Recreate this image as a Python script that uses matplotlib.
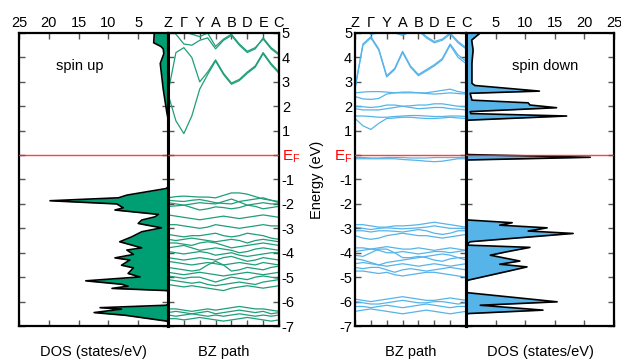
import matplotlib

matplotlib.use("Agg")
import matplotlib.pyplot as plt

plt.rcParams["font.family"] = ["Liberation Sans", "DejaVu Sans"]

# high-symmetry path, band values sampled at every half segment
kpath_labels = ["Z", "Γ", "Y", "A", "B", "D", "E", "C"]
k_samples = [i * 0.5 for i in range(15)]

# spin up bands (eV)
up_bands = [
    [2.5, 1.4, 0.88, 1.6, 2.7, 3.3, 3.85, 3.3, 2.9, 3.05, 3.35, 3.6, 4.15, 3.7, 3.35],
    [2.55, 4.2, 4.4, 4.0, 3.0, 3.4, 3.9, 3.35, 2.95, 3.1, 3.4, 3.65, 4.2, 3.75, 3.4],
    [5.2, 4.95, 4.55, 4.5, 4.7, 4.8, 4.35, 4.7, 4.9, 4.5, 4.2, 4.35, 4.8, 4.4, 4.15],
    [5.3, 5.2, 5.05, 4.95, 4.85, 5.0, 4.45, 4.75, 4.95, 4.55, 4.25, 4.4, 4.75, 4.35, 4.1],
    [-1.75, -1.7, -1.68, -1.7, -1.72, -1.72, -1.75, -1.65, -1.55, -1.55, -1.6, -1.7, -1.8, -1.85, -1.9],
    [-1.85, -1.88, -1.9, -1.85, -1.82, -1.88, -1.95, -1.98, -2.0, -1.9, -1.85, -1.8, -1.75, -1.85, -1.95],
    [-1.95, -2.0, -2.05, -2.0, -1.95, -1.98, -2.0, -1.9, -1.8, -1.92, -2.05, -2.0, -1.95, -2.0, -2.0],
    [-2.1, -2.08, -2.05, -2.15, -2.25, -2.2, -2.12, -2.15, -2.2, -2.15, -2.05, -2.1, -2.2, -2.15, -2.1],
    [-2.45, -2.5, -2.55, -2.6, -2.65, -2.6, -2.55, -2.5, -2.55, -2.6, -2.55, -2.5, -2.45, -2.5, -2.55],
    [-2.85, -2.85, -2.9, -2.95, -3.0, -2.95, -2.85, -2.9, -2.95, -3.0, -2.95, -2.9, -2.85, -2.9, -2.9],
    [-3.25, -3.3, -3.35, -3.3, -3.3, -3.25, -3.2, -3.3, -3.35, -3.3, -3.2, -3.25, -3.3, -3.4, -3.45],
    [-3.45, -3.5, -3.45, -3.4, -3.45, -3.5, -3.55, -3.5, -3.45, -3.5, -3.6, -3.5, -3.45, -3.5, -3.55],
    [-3.6, -3.6, -3.65, -3.7, -3.6, -3.55, -3.6, -3.7, -3.8, -3.75, -3.7, -3.65, -3.6, -3.65, -3.7],
    [-3.8, -3.75, -3.7, -3.8, -3.9, -3.85, -3.8, -3.85, -3.9, -4.0, -3.95, -3.85, -3.8, -3.85, -3.9],
    [-3.95, -4.0, -4.05, -4.0, -3.95, -4.0, -4.1, -4.05, -4.0, -4.1, -4.15, -4.1, -4.05, -4.0, -4.0],
    [-4.2, -4.25, -4.3, -4.25, -4.2, -4.25, -4.3, -4.2, -4.15, -4.25, -4.35, -4.3, -4.2, -4.25, -4.3],
    [-4.35, -4.4, -4.45, -4.5, -4.45, -4.4, -4.45, -4.5, -4.45, -4.4, -4.45, -4.5, -4.4, -4.45, -4.5],
    [-4.6, -4.65, -4.7, -4.75, -4.7, -4.5, -4.35, -4.5, -4.75, -4.7, -4.6, -4.65, -4.7, -4.6, -4.55],
    [-4.8, -4.85, -4.9, -4.85, -4.8, -4.85, -4.9, -4.95, -4.9, -4.85, -4.8, -4.85, -4.9, -4.85, -4.8],
    [-4.95, -5.0, -5.05, -5.0, -5.0, -5.1, -5.2, -5.1, -5.0, -5.05, -5.1, -5.0, -4.95, -5.0, -5.05],
    [-5.1, -5.15, -5.2, -5.25, -5.2, -5.3, -5.35, -5.3, -5.25, -5.2, -5.25, -5.3, -5.2, -5.15, -5.1],
    [-5.3, -5.35, -5.4, -5.35, -5.4, -5.45, -5.5, -5.55, -5.45, -5.4, -5.35, -5.4, -5.45, -5.4, -5.35],
    [-6.3, -6.3, -6.35, -6.4, -6.35, -6.3, -6.35, -6.3, -6.25, -6.2, -6.25, -6.3, -6.3, -6.35, -6.4],
    [-6.45, -6.4, -6.45, -6.5, -6.45, -6.4, -6.5, -6.45, -6.4, -6.35, -6.4, -6.45, -6.4, -6.5, -6.45],
    [-6.55, -6.6, -6.55, -6.5, -6.55, -6.6, -6.55, -6.6, -6.55, -6.5, -6.55, -6.6, -6.55, -6.6, -6.55],
    [-6.7, -6.7, -6.75, -6.7, -6.65, -6.7, -6.75, -6.8, -6.75, -6.7, -6.65, -6.7, -6.75, -6.8, -6.75],
]

# spin down bands (eV)
dn_bands = [
    [5.3, 5.1, 4.95, 5.0, 5.1, 5.0, 4.9, 5.05, 5.1, 4.8, 4.6, 4.7, 4.95, 4.6, 4.35],
    [5.4, 5.2, 5.05, 5.1, 5.2, 5.05, 4.95, 5.1, 5.15, 4.85, 4.65, 4.75, 5.0, 4.65, 4.4],
    [2.7, 4.5, 4.8, 4.3, 3.2, 3.5, 4.2, 3.6, 3.25, 3.45, 3.65, 3.9, 4.5, 4.0, 3.75],
    [2.75, 4.55, 4.85, 4.35, 3.25, 3.55, 4.25, 3.65, 3.3, 3.5, 3.7, 3.95, 4.55, 4.1, 3.85],
    [2.4, 2.3, 2.28, 2.32, 2.5, 2.55, 2.58, 2.58, 2.55, 2.55, 2.6, 2.65, 2.7, 2.6, 2.55],
    [2.55, 2.58, 2.6, 2.6, 2.58, 2.55, 2.55, 2.55, 2.55, 2.52, 2.5, 2.52, 2.55, 2.52, 2.5],
    [2.0, 1.98, 1.95, 1.98, 2.05, 2.05, 2.0, 2.02, 2.05, 2.05, 2.1, 2.1, 2.05, 2.0, 1.98],
    [1.9, 1.85, 1.85, 1.85, 1.9, 1.95, 2.0, 1.95, 1.9, 1.92, 1.95, 1.95, 1.9, 1.88, 1.85],
    [1.6, 1.6, 1.58, 1.55, 1.55, 1.58, 1.6, 1.62, 1.62, 1.6, 1.58, 1.58, 1.6, 1.6, 1.58],
    [1.5, 1.2, 1.05, 1.3, 1.5, 1.52, 1.55, 1.55, 1.52, 1.5, 1.5, 1.52, 1.55, 1.52, 1.5],
    [-0.1, -0.1, -0.12, -0.12, -0.1, -0.1, -0.1, -0.12, -0.12, -0.12, -0.1, -0.1, -0.1, -0.1, -0.1],
    [-0.15, -0.15, -0.15, -0.15, -0.15, -0.15, -0.18, -0.2, -0.22, -0.25, -0.27, -0.25, -0.2, -0.15, -0.15],
    [-2.85, -2.85, -2.9, -2.95, -2.95, -2.9, -2.9, -2.88, -2.85, -2.8, -2.75, -2.8, -2.85, -2.9, -2.95],
    [-2.95, -3.0, -3.05, -3.0, -2.98, -3.0, -3.02, -3.0, -2.98, -2.95, -2.9, -2.95, -3.0, -3.0, -3.0],
    [-3.1, -3.1, -3.15, -3.1, -3.1, -3.12, -3.15, -3.1, -3.05, -3.1, -3.2, -3.25, -3.2, -3.1, -3.1],
    [-3.3, -3.4, -3.45, -3.4, -3.3, -3.25, -3.2, -3.25, -3.3, -3.3, -3.35, -3.4, -3.35, -3.3, -3.25],
    [-3.8, -3.8, -3.85, -3.8, -3.75, -3.8, -3.85, -3.85, -3.8, -3.85, -3.9, -3.85, -3.8, -3.85, -3.9],
    [-3.95, -3.9, -3.85, -3.9, -4.0, -4.0, -3.95, -4.0, -4.05, -4.0, -3.95, -3.95, -4.0, -3.95, -3.9],
    [-4.1, -4.15, -4.0, -3.85, -3.85, -4.0, -4.2, -4.2, -4.15, -4.2, -4.3, -4.35, -4.25, -4.2, -4.2],
    [-4.25, -4.3, -4.4, -4.5, -4.4, -4.35, -4.3, -4.25, -4.2, -4.15, -4.1, -4.05, -4.1, -4.2, -4.3],
    [-4.45, -4.4, -4.45, -4.5, -4.55, -4.5, -4.45, -4.5, -4.55, -4.5, -4.45, -4.5, -4.55, -4.5, -4.45],
    [-4.6, -4.65, -4.6, -4.6, -4.7, -4.8, -4.7, -4.65, -4.7, -4.75, -4.7, -4.65, -4.6, -4.65, -4.7],
    [-4.75, -4.75, -4.8, -4.85, -4.8, -4.9, -4.95, -4.9, -4.85, -4.8, -4.8, -4.85, -4.9, -4.95, -5.0],
    [-5.9, -5.95, -6.0, -5.95, -5.9, -5.85, -5.8, -5.85, -5.9, -5.95, -5.95, -5.9, -5.85, -5.9, -5.95],
    [-6.0, -6.05, -6.1, -6.1, -6.05, -6.0, -5.95, -6.0, -6.05, -6.05, -6.0, -6.0, -6.05, -6.1, -6.05],
    [-6.2, -6.2, -6.25, -6.2, -6.15, -6.2, -6.25, -6.2, -6.15, -6.1, -6.15, -6.2, -6.25, -6.2, -6.2],
    [-6.4, -6.35, -6.3, -6.35, -6.4, -6.45, -6.5, -6.45, -6.4, -6.35, -6.4, -6.45, -6.5, -6.45, -6.4],
]

# density of states (energy, states/eV)
up_dos_energy = [5.0, 4.6, 4.45, 4.35, 4.15, 3.75, 2.7, 1.75, 1.5, -1.3, -1.37, -1.64, -1.75,
                 -1.87, -2.0, -2.16, -2.25, -2.43, -2.53, -2.66, -2.8, -2.98, -3.14, -3.35,
                 -3.55, -3.8, -3.89, -4.07, -4.21, -4.3, -4.51, -4.62, -4.85, -4.99, -5.15,
                 -5.29, -5.37, -5.46, -5.55, -5.6, -6.1, -6.15, -6.25, -6.31, -6.45, -6.56,
                 -6.8, -6.85, -7.0]
up_dos_value = [2.3, 2.4, 1.2, 0.8, 0.7, 1.3, 0.8, 0.2, 0.0, 0.0, 0.3, 6.9, 8.3,
                19.8, 8.6, 7.5, 8.9, 1.6, 2.2, 4.4, 5.0, 1.1, 4.4, 6.1,
                8.1, 4.4, 6.9, 5.8, 8.9, 6.4, 7.8, 5.8, 6.7, 4.7, 13.8,
                7.8, 6.7, 9.4, 0.2, 0.0, 0.0, 0.3, 11.4, 7.8, 12.4, 7.2,
                0.2, 0.0, 0.0]

dn_dos_energy = [5.0, 4.92, 4.71, 4.3, 3.76, 2.94, 2.85, 2.62, 2.53, 2.25, 2.14, 2.05, 1.94,
                 1.78, 1.7, 1.6, 1.43, 1.38, 0.05, 0.02, -0.09, -0.2, -0.25, -2.6, -2.66,
                 -2.77, -2.87, -2.98, -3.11, -3.21, -3.55, -3.62, -3.69, -3.78, -3.96, -4.1,
                 -4.34, -4.47, -4.58, -4.74, -5.12, -5.2, -5.6, -5.64, -6.01, -6.15, -6.35,
                 -6.49, -6.55, -7.0]
dn_dos_value = [2.4, 2.0, 0.96, 1.2, 1.0, 1.0, 1.5, 12.4, 0.7, 1.0, 10.5, 10.8, 15.3,
                0.7, 0.8, 17.0, 0.4, 0.0, 0.0, 0.5, 21.0, 0.3, 0.0, 0.0, 0.4,
                7.8, 5.7, 13.7, 10.5, 18.1, 0.7, 0.3, 0.4, 10.8, 6.9, 4.1,
                9.1, 5.7, 10.3, 7.4, 0.4, 0.0, 0.0, 0.4, 15.4, 2.4, 13.0,
                0.4, 0.0, 0.0]

dos_ticks = [0, 5, 10, 15, 20, 25]
energy_ticks = list(range(-7, 6))

up_fill = "#009e73"
up_line = "#1f9e78"
dn_fill = "#56b4e9"
dn_line = "#56b4e9"
tick_color = "#555555"

W, H = 621, 359
fig = plt.figure(figsize=(W / 100, H / 100), dpi=100)
bottom = 1 - 326 / H
height = (326 - 33) / H

ax_dos_up = fig.add_axes([19 / W, bottom, 149 / W, height])
ax_bz_up = fig.add_axes([168 / W, bottom, 111 / W, height])
ax_bz_dn = fig.add_axes([355 / W, bottom, 111 / W, height])
ax_dos_dn = fig.add_axes([466 / W, bottom, 148 / W, height])

energy_labels = [str(e) if e != 0 else r"$\mathregular{E_F}$" for e in energy_ticks]


def style_common(ax):
    ax.set_ylim(-7, 5)
    ax.set_yticks(energy_ticks)
    ax.tick_params(direction="in", length=4, width=1, color=tick_color,
                   top=True, bottom=True, left=True, right=True,
                   labelsize=10.5, pad=2)
    for spine in ax.spines.values():
        spine.set_linewidth(1.6)
    ax.axhline(0, color="#ff2020", lw=1.0, alpha=0.85, zorder=5)


def style_dos(ax, values, energies, fill, inverted):
    style_common(ax)
    ax.fill_betweenx(energies, 0, values, color=fill, lw=0, zorder=2)
    ax.plot(values, energies, color="black", lw=1.2, zorder=3)
    ax.set_xlim((25, 0) if inverted else (0, 25))
    ax.set_xticks(dos_ticks)
    ax.set_xticklabels([str(t) if t else "" for t in dos_ticks])
    ax.tick_params(labeltop=True, labelbottom=False, labelleft=False, labelright=False)
    ax.set_xlabel("DOS (states/eV)", fontsize=10.5, labelpad=14)


def style_bz(ax, bands, color, label_side):
    style_common(ax)
    for band in bands:
        ax.plot(k_samples, band, color=color, lw=0.9, zorder=2)
    ax.set_xlim(0, 7)
    ax.set_xticks(range(len(kpath_labels)))
    ax.set_xticklabels(kpath_labels)
    for lab in ax.get_xticklabels():
        if lab.get_text() == "Γ":
            lab.set_fontfamily("Liberation Serif")
    ax.tick_params(labeltop=True, labelbottom=False,
                   labelleft=label_side == "left", labelright=label_side == "right")
    ax.set_yticklabels(energy_labels)
    for lab in ax.get_yticklabels():
        if "E_F" in lab.get_text():
            lab.set_color("red")
            lab.set_fontsize(11)
    ax.set_xlabel("BZ path", fontsize=10.5, labelpad=14)


style_dos(ax_dos_up, up_dos_value, up_dos_energy, up_fill, inverted=True)
style_bz(ax_bz_up, up_bands, up_line, "right")
style_bz(ax_bz_dn, dn_bands, dn_line, "left")
style_dos(ax_dos_dn, dn_dos_value, dn_dos_energy, dn_fill, inverted=False)

ax_dos_up.spines["right"].set_linewidth(2.2)
ax_bz_up.spines["left"].set_linewidth(2.2)
ax_bz_dn.spines["right"].set_linewidth(2.2)
ax_dos_dn.spines["left"].set_linewidth(2.2)

ax_bz_dn.set_ylabel("Energy (eV)", fontsize=10.5, labelpad=7)

ax_dos_up.text(14.8, 3.65, "spin up", fontsize=10.5, ha="center", va="center")
ax_dos_dn.text(13.3, 3.65, "spin down", fontsize=10.5, ha="center", va="center")

fig.savefig("out.png", dpi=100)
